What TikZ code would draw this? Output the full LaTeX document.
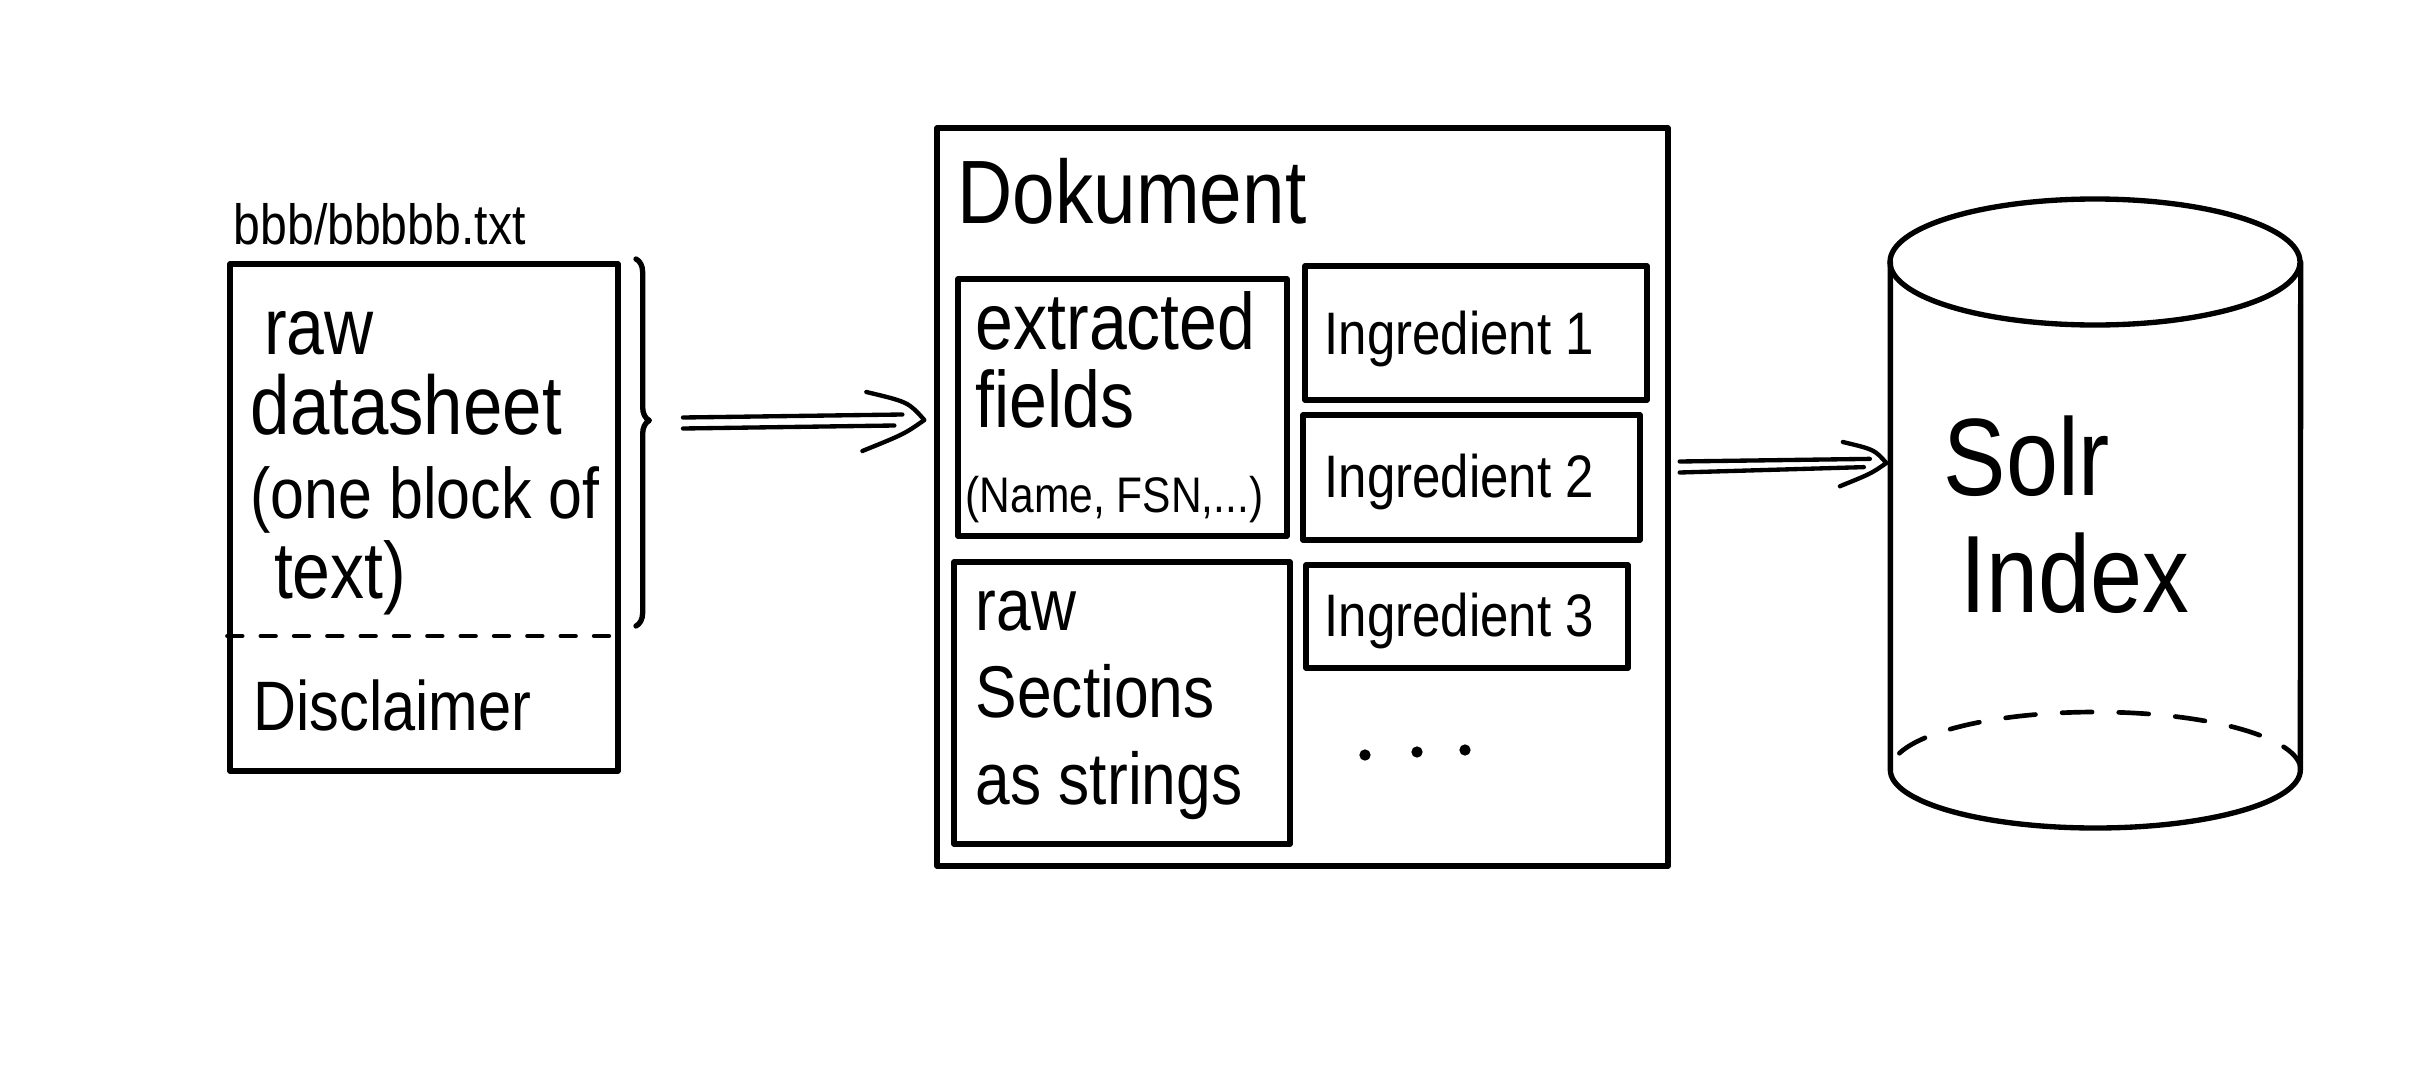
\documentclass[tikz,border=0pt]{standalone}
\usepackage{fontspec}
\setmainfont{Liberation Sans}[FakeStretch=0.85]
\usetikzlibrary{decorations.pathreplacing,fit,calc}
\newcommand{\hdarrow}[3]{%
  \draw[arrowline] ($(#1)+(0,-5.5)$) -- ($(#2)+#3*(-22,-5.5)$);
  \draw[arrowline] ($(#1)+(0,5.5)$) -- ($(#2)+#3*(-30,5.5)$);
  \draw[arrowline] ($(#2)+#3*(-58,-28)$) .. controls ($(#2)+#3*(-16,-18)$) .. (#2)
     .. controls ($(#2)+#3*(-20,14)$) .. ($(#2)+#3*(-62,31)$);}
\begin{document}
\begin{tikzpicture}[x=0.3pt, y=-0.3pt,
  every path/.style={line cap=round, line join=round},
  stroke/.style={line width=1.6pt},
  box/.style={draw, line width=1.6pt, inner sep=0pt},
  txt/.style={anchor=base west, inner sep=0pt, align=left},
  arrowline/.style={line width=1.3pt},
  sep/.style={line width=1.3pt, dash pattern=on 4.5pt off 5.5pt},
  hidden/.style={line width=1.4pt, dash pattern=on 9pt off 8pt}]
\useasboundingbox (0,0) rectangle (2434,1074);

% source file
\node[box, fit={(230,264)(618,771)}] (sheet) {};
\node[txt, font=\fontsize{17}{19}\selectfont] (path) at (233,244) {bbb/bbbbb.txt};
\node[txt, font=\fontsize{24}{24}\selectfont] (rawds) at (250,598)
  {\hspace*{4pt}raw\\{\fontsize{25}{24}\selectfont datasheet}\\[1pt]{\fontsize{21.5}{24}\selectfont (one block of}\\\hspace*{7pt}text)};
\draw[sep] (sheet.west |- 0,636) -- (sheet.east |- 0,636);
\node[txt, font=\fontsize{21}{24}\selectfont] (disc) at (253,730) {Disclaimer};
\draw[stroke, decorate, decoration={brace, amplitude=4pt, aspect=0.44}] (636,259) -- (636,626);
\coordinate (bracetip) at (649,420);

% document
\node[box, fit={(937,128)(1668,866)}] (doc) {};
\node[txt, font=\fontsize{27}{30}\selectfont] (doctitle) at (957,223) {Dokument};
\node[box, fit={(958,279)(1287,536)}] (fields) {};
\node[txt, font=\fontsize{24}{23.4}\selectfont] (fieldstxt) at (975,427) {extracted\\fields};
\node[txt, font=\fontsize{15}{18}\selectfont] (fieldsex) at (965,512) {(Name, FSN,...)};
\node[box, fit={(954,562)(1290,844)}] (sections) {};
\node[txt, font=\fontsize{22}{26}\selectfont] (sectionstxt) at (975,804) {raw\\Sections\\as strings};
\node[box, fit={(1305,266)(1647,400)}] (ing1) {};
\node[box, fit={(1303,415)(1640,540)}] (ing2) {};
\node[box, fit={(1306,565)(1628,668)}] (ing3) {};
\node[txt, font=\fontsize{18}{20}\selectfont] (ing1txt) at (1324,354) {Ingredient 1};
\node[txt, font=\fontsize{18}{20}\selectfont] (ing2txt) at (1324,497) {Ingredient 2};
\node[txt, font=\fontsize{18}{20}\selectfont] (ing3txt) at (1324,636) {Ingredient 3};
\fill (1365,755) circle[radius=1.7pt];
\fill (1417,752) circle[radius=1.7pt];
\fill (1465,750) circle[radius=1.7pt];

% Solr index cylinder
\node[fit={(1891,199)(2300,828)}, inner sep=0pt] (db) {};
\draw[stroke] (2095,262) ellipse [x radius=205, y radius=63];
\draw[stroke] (db.west |- 0,262) -- (db.west |- 0,770) arc[start angle=180, end angle=360, x radius=61.5pt, y radius=17.4pt] -- (db.east |- 0,262);
\draw[hidden] (db.east |- 0,770) arc[start angle=0, end angle=180, x radius=61.5pt, y radius=17.4pt];
\node[txt, font=\fontsize{33}{35}\selectfont] (solr) at (1943,612) {Solr\\\hspace*{5pt}Index};

% connectors
\coordinate (a1s) at ($(bracetip)+(34,3)$);
\coordinate (a1e) at ($(doc.west |- bracetip)+(-10,0)$);
\hdarrow{a1s}{a1e}{1}
\coordinate (a2s) at ($(doc.east |- 0,467)+(9,0)$);
\coordinate (a2e) at ($(db.west |- 0,463)+(-4,0)$);
\hdarrow{a2s}{a2e}{0.75}
\end{tikzpicture}
\end{document}
